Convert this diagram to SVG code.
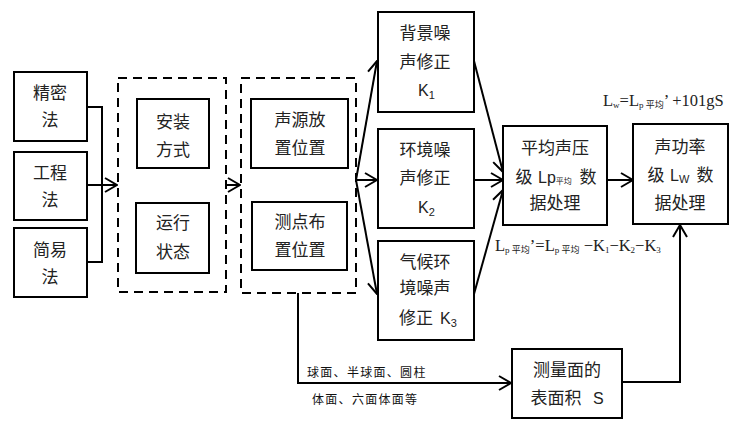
<svg xmlns="http://www.w3.org/2000/svg" width="743" height="427" viewBox="0 0 743 427">
<style>
.box{fill:#fff;stroke:#000;stroke-width:2}
.dash{fill:none;stroke:#000;stroke-width:2;stroke-dasharray:9 6}
.t{font-family:"Noto Sans CJK SC","Noto Sans",sans-serif;font-size:17px;fill:#222;text-anchor:middle}
.k{font-family:"Liberation Sans","Noto Sans",sans-serif;font-size:16px;fill:#222}
.f{font-family:"Liberation Serif","Noto Sans CJK SC",serif;font-size:16.5px;fill:#222}
.sm{font-family:"Noto Sans CJK SC",sans-serif;font-size:12px;fill:#111;letter-spacing:1.3px}
.c{fill:none;stroke:#000;stroke-width:2}
</style>
<defs>
<marker id="a" viewBox="0 0 14 16" refX="13" refY="8" markerWidth="14" markerHeight="16" markerUnits="userSpaceOnUse" orient="auto">
<path d="M1,1 L13,8 L1,15" fill="none" stroke="#000" stroke-width="2"/>
</marker>
</defs>
<rect width="743" height="427" fill="#fff"/>
<g id="connectors">
<polyline class="c" points="87,107 102,107 102,262 87,262"/>
<line class="c" x1="87" y1="185" x2="117" y2="185" marker-end="url(#a)"/>
<line class="c" x1="226" y1="185" x2="240" y2="185" marker-end="url(#a)"/>
<line class="c" x1="356" y1="180" x2="377" y2="61" marker-end="url(#a)"/>
<line class="c" x1="356" y1="180" x2="377" y2="180" marker-end="url(#a)"/>
<line class="c" x1="356" y1="180" x2="377" y2="294" marker-end="url(#a)"/>
<line class="c" x1="474" y1="61" x2="503" y2="172" marker-end="url(#a)"/>
<line class="c" x1="474" y1="180" x2="503" y2="180" marker-end="url(#a)"/>
<line class="c" x1="474" y1="294" x2="503" y2="190" marker-end="url(#a)"/>
<line class="c" x1="607" y1="180" x2="633" y2="180" marker-end="url(#a)"/>
<polyline class="c" points="298,293 298,383 511,383" marker-end="url(#a)"/>
<polyline class="c" points="622,382 680,382 680,225" marker-end="url(#a)"/>
</g>
<g id="n-jingmi"><rect class="box" x="14" y="72" width="73" height="69"/><text class="t" x="50" y="99">精密</text><text class="t" x="50" y="126">法</text></g>
<g id="n-gongcheng"><rect class="box" x="14" y="152" width="73" height="68"/><text class="t" x="50" y="179">工程</text><text class="t" x="50" y="206">法</text></g>
<g id="n-jianyi"><rect class="box" x="14" y="228" width="73" height="69"/><text class="t" x="50" y="256">简易</text><text class="t" x="50" y="283">法</text></g>
<g id="g1"><rect class="dash" x="118" y="78" width="108" height="214"/></g>
<g id="n-anzhuang"><rect class="box" x="137" y="99" width="72" height="69"/><text class="t" x="173" y="128">安装</text><text class="t" x="173" y="156">方式</text></g>
<g id="n-yunxing"><rect class="box" x="136" y="203" width="73" height="70"/><text class="t" x="173" y="229">运行</text><text class="t" x="173" y="258">状态</text></g>
<g id="g2"><rect class="dash" x="241" y="78" width="115" height="215"/></g>
<g id="n-shengyuan"><rect class="box" x="251" y="99" width="97" height="69"/><text class="t" x="300" y="126">声源放</text><text class="t" x="300" y="154">置位置</text></g>
<g id="n-cedian"><rect class="box" x="252" y="202" width="95" height="68"/><text class="t" x="300" y="228">测点布</text><text class="t" x="300" y="256">置位置</text></g>
<g id="n-k1"><rect class="box" x="378" y="12" width="96" height="100"/><text class="t" x="425" y="39">背景噪</text><text class="t" x="425" y="68">声修正</text><text class="k" x="418" y="96">K<tspan font-size="11" dy="3">1</tspan></text></g>
<g id="n-k2"><rect class="box" x="378" y="129" width="96" height="99"/><text class="t" x="425" y="156">环境噪</text><text class="t" x="425" y="184">声修正</text><text class="k" x="418" y="213">K<tspan font-size="11" dy="3">2</tspan></text></g>
<g id="n-k3"><rect class="box" x="378" y="241" width="96" height="99"/><text class="t" x="425" y="268">气候环</text><text class="t" x="425" y="294">境噪声</text><text class="t" x="416" y="324">修正</text><text class="k" x="440" y="324">K<tspan font-size="11" dy="3">3</tspan></text></g>
<g id="n-avg"><rect class="box" x="503" y="126" width="104" height="99"/><text class="t" x="555" y="154">平均声压</text><text class="t" x="524" y="183">级</text><text class="k" x="538" y="183">Lp<tspan font-size="8" dy="1" font-family="Noto Sans CJK SC">平均</tspan></text><text class="t" x="588" y="183">数</text><text class="t" x="555" y="209">据处理</text></g>
<g id="n-power"><rect class="box" x="633" y="124" width="95" height="100"/><text class="t" x="680" y="153">声功率</text><text class="t" x="656" y="181">级</text><text class="k" x="670" y="181">L<tspan font-size="11" dy="2">W</tspan></text><text class="t" x="705" y="181">数</text><text class="t" x="680" y="209">据处理</text></g>
<g id="n-area"><rect class="box" x="512" y="349" width="110" height="69"/><text class="t" x="567" y="376">测量面的</text><text class="t" x="556" y="404">表面积</text><text class="k" x="593" y="404">S</text></g>
<g id="labels">
<text class="f" x="603" y="106">L<tspan font-size="9" dy="2">w</tspan><tspan dy="-2">=L</tspan><tspan font-size="9" dy="2">p 平均</tspan><tspan dy="-2">’ +101gS</tspan></text>
<text class="f" x="495" y="251">L<tspan font-size="9" dy="2">p 平均</tspan><tspan dy="-2">’=L</tspan><tspan font-size="9" dy="2">p 平均</tspan><tspan dy="-2"> −K</tspan><tspan font-size="9" dy="2">1</tspan><tspan dy="-2">−K</tspan><tspan font-size="9" dy="2">2</tspan><tspan dy="-2">−K</tspan><tspan font-size="9" dy="2">3</tspan></text>
<text class="sm" x="307" y="377">球面、半球面、圆柱</text>
<text class="sm" x="312" y="404">体面、六面体面等</text>
</g>
</svg>
